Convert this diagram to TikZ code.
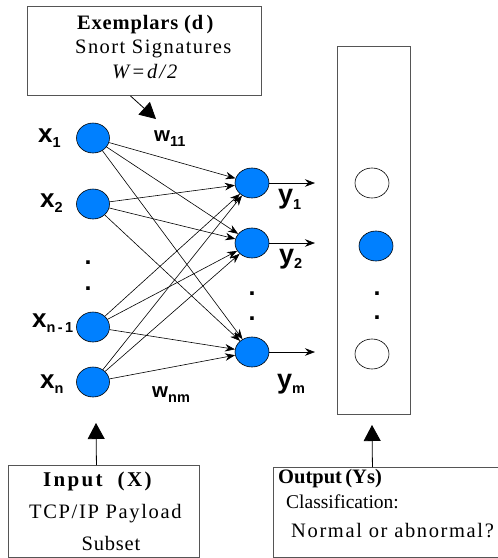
\documentclass[tikz,border=0pt]{standalone}
\usepackage{fontspec}
\setmainfont{Liberation Serif}
\newfontfamily\labelsf{Liberation Sans}
\usetikzlibrary{arrows.meta,shapes.geometric}

\definecolor{neuronblue}{RGB}{0,128,255}
\definecolor{boxline}{RGB}{85,85,85}

% variable label: large bold letter with a smaller subscript
\newcommand\nnlabel[3]{{\labelsf\bfseries\fontsize{#1}{#1}\selectfont #2\raisebox{-5.5pt}{\fontsize{14.5}{14.5}\selectfont #3}}}
% spaced serif text line: size, letter spacing, text
\newcommand\spaced[3]{{\fontsize{#1}{#1}\selectfont\addfontfeature{LetterSpace=#2}#3}}
\newcommand\dotmark{{\labelsf\bfseries\fontsize{25}{25}\selectfont .}}

\tikzset{
  neuron/.style={ellipse, draw=black, line width=0.6pt, fill=neuronblue,
    minimum width=33pt, minimum height=30pt, inner sep=0pt},
  blank/.style={neuron, fill=white},
  panel/.style={draw=boxline, line width=0.9pt, inner sep=0pt, anchor=north west},
  link/.style={-{Stealth[length=10pt,width=7.5pt]}, line width=0.6pt},
  bigarrow/.style={-{Triangle[length=16pt,width=17pt]}, line width=0.8pt},
  txt/.style={inner sep=0pt, anchor=base west},
  dotn/.style={inner sep=0pt, anchor=base},
}

\begin{document}
\begin{tikzpicture}[x=1pt,y=-1pt]
\useasboundingbox (0,0) rectangle (498,558);

% boxes
\node[panel, minimum width=234pt, minimum height=89pt] (top) at (27,6) {};
\node[panel, minimum width=73pt, minimum height=368pt] (outcol) at (337,46) {};
\node[panel, minimum width=191pt, minimum height=92pt] (inbox) at (8,465) {};
\node[panel, minimum width=224.5pt, minimum height=90pt] (outbox) at (273,467) {};

% text of the exemplar box
\node[txt] (t1) at (77,29) {\spaced{20.5}{4}{\bfseries Exemplars (d\,)}};
\node[txt] (t2) at (75,53) {\spaced{20.5}{7}{Snort Signatures}};
\node[txt] (t3) at (112,78) {\spaced{20.5}{10}{\itshape W=d/2}};

% text of the input box
\node[txt] (i1) at (43,486) {\spaced{21}{11}{\bfseries Input\ \ (X)}};
\node[txt] (i2) at (29,518) {\spaced{20.5}{8}{TCP/IP Payload}};
\node[dotn] (i3) at (111,550) {\spaced{20.5}{4}{Subset}};

% text of the output box
\node[txt] (o1t) at (278,483) {\spaced{20.5}{0}{\bfseries Output\,(Ys)}};
\node[txt] (o2t) at (286,508) {\spaced{19.5}{0}{Classification:}};
\node[txt] (o3t) at (291,537) {\spaced{20.5}{8}{Normal or abnormal?}};

% input layer
\node[neuron] (in1) at (93,138) {};
\node[neuron] (in2) at (93,204) {};
\node[neuron] (in3) at (93,327) {};
\node[neuron] (in4) at (93,382) {};

% output layer of the network
\node[neuron, minimum width=34pt] (h1) at (252,183) {};
\node[neuron, minimum width=34pt] (h2) at (252,243) {};
\node[neuron, minimum width=34pt] (h3) at (252,352) {};

% classification column
\node[blank, minimum width=34pt] (c1) at (372,183) {};
\node[neuron, minimum width=34pt] (c2) at (376,246) {};
\node[blank, minimum width=34pt] (c3) at (372,354) {};

% ellipsis dots
\node[dotn] (d1) at (88,264) {\dotmark};
\node[dotn] (d2) at (88,290) {\dotmark};
\node[dotn] (d3) at (252,295) {\dotmark};
\node[dotn] (d4) at (252,320) {\dotmark};
\node[dotn] (d5) at (377,295) {\dotmark};
\node[dotn] (d6) at (377,319) {\dotmark};

% labels
\node[txt] (lx1) at (38,142) {\nnlabel{26}{x}{1}};
\node[txt] (lx2) at (40,207) {\nnlabel{26}{x}{2}};
\node[txt] (lx3) at (32,327) {\nnlabel{26}{x}{n\,-\,1}};
\node[txt] (lx4) at (40,388) {\nnlabel{26}{x}{n}};
\node[txt] (lw1) at (154,141) {\nnlabel{20.5}{w}{11}};
\node[txt] (lw2) at (152,397) {\nnlabel{20.5}{w}{nm}};
\node[txt] (ly1) at (278,203.5) {\nnlabel{27}{y}{1}};
\node[txt] (ly2) at (279,263) {\nnlabel{27}{y}{2}};
\node[txt] (ly3) at (277,388) {\nnlabel{27}{y}{m}};

% fully connected weights
\foreach \i in {1,...,4}
  \foreach \j in {1,2,3}
    \draw[link] (in\i) -- (h\j);

% network outputs
\coordinate (y1tip) at (315,183);
\coordinate (y2tip) at (315,243);
\coordinate (y3tip) at (315,352);
\draw[link] (h1) -- (y1tip);
\draw[link] (h2) -- (y2tip);
\draw[link] (h3) -- (y3tip);

% feeding arrows
\coordinate (wtip) at (156,119);
\coordinate (intip) at (96,423);
\coordinate (outtip) at (372,425);
\draw[bigarrow] ([xshift=-14pt]top.south) -- (wtip);
\draw[bigarrow] ([xshift=-7.5pt]inbox.north) -- (intip);
\draw[bigarrow] ([xshift=-13.25pt]outbox.north) -- (outtip);
\end{tikzpicture}
\end{document}
